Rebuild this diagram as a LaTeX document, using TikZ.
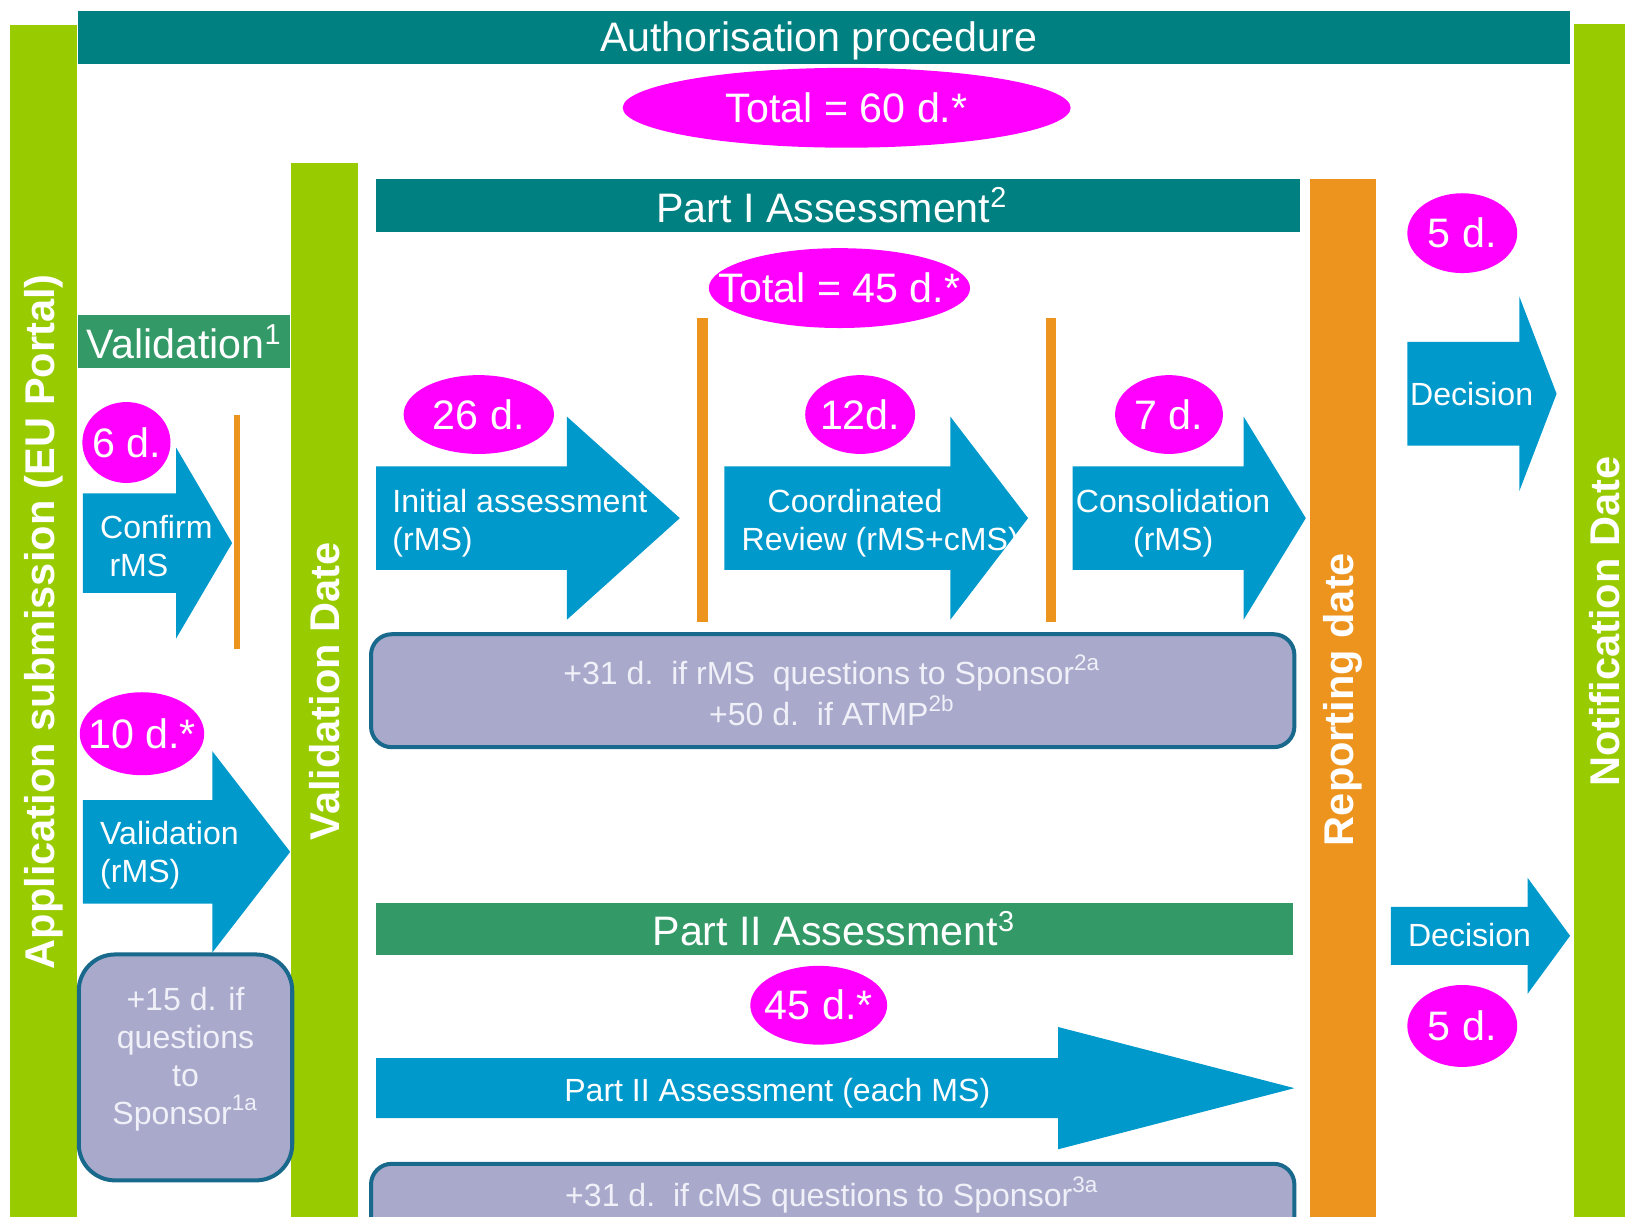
\documentclass[tikz,border=0pt]{standalone}
\usepackage{fontspec}
\setmainfont{Liberation Sans}
\usetikzlibrary{shapes.geometric}
\definecolor{ctTeal}{RGB}{0,128,128}
\definecolor{ctLime}{RGB}{153,204,0}
\definecolor{ctGreen}{RGB}{51,153,102}
\definecolor{ctOrange}{RGB}{237,148,30}
\definecolor{ctBlue}{RGB}{0,153,204}
\definecolor{ctMagenta}{RGB}{255,0,255}
\definecolor{ctLavender}{RGB}{169,169,204}
\definecolor{ctEdge}{RGB}{25,105,140}
\definecolor{ctPale}{RGB}{240,240,248}

% block arrow: left x, head x, tip x, centre y, half body, half head
\newcommand{\blockarrow}[6]{%
  \fill[ctBlue] (#1,#4-#5) -- (#2,#4-#5) -- (#2,#4-#6) -- (#3,#4)
    -- (#2,#4+#6) -- (#2,#4+#5) -- (#1,#4+#5) -- cycle;}
% duration text may run over its ellipse
\newcommand{\dlab}[1]{\makebox[0pt]{#1}}

\begin{document}
\begin{tikzpicture}[
    x=0.01cm,y=-0.01cm,
    big/.style={font=\fontsize{11.3}{13.5}\selectfont,text=white,inner sep=0pt},
    small/.style={font=\fontsize{8.8}{10.5}\selectfont,text=white,inner sep=0pt},
    vlabel/.style={font=\fontsize{11.4}{13.5}\selectfont\bfseries,text=white,rotate=90,inner sep=0pt},
    days/.style={ellipse,fill=ctMagenta,text=white,inner sep=0pt,
      font=\fontsize{11.3}{13.5}\selectfont},
    note/.style={fill=ctLavender,draw=ctEdge,line width=1.1pt},
    notetext/.style={font=\fontsize{8.8}{10.5}\selectfont,text=ctPale,inner sep=0pt,align=center}
  ]
  \useasboundingbox (0,0) rectangle (1568,1174);
  \clip (0,0) rectangle (1568,1174);

  % bars
  \fill[ctLime] (10,24) rectangle (74,1180);
  \fill[ctLime] (1519,23) rectangle (1600,1180);
  \fill[ctLime] (281,157) rectangle (345,1180);
  \fill[ctOrange] (1264,173) rectangle (1328,1180);
  \fill[ctTeal] (75,11) rectangle (1515,62);
  \fill[ctTeal] (363,173) rectangle (1254,224);
  \fill[ctGreen] (75,304) rectangle (280,355);
  \fill[ctGreen] (363,871) rectangle (1248,922);

  \node[vlabel] (submit) at (42,600) {Application submission (EU Portal)};
  \node[vlabel] (notify) at (1548,600) {Notification Date};
  \node[vlabel] (valdate) at (313,667) {Validation Date};
  \node[vlabel] (repdate) at (1296,675) {Reporting date};
  \node[big] (authTitle) at (790,39) {Authorisation procedure};
  \node[big] (partOneTitle) at (803,198) {Part I Assessment\textsuperscript{2}};
  \node[big,anchor=west] (valTitle) at (83,330) {Validation\textsuperscript{1}};
  \node[big] (partTwoTitle) at (805,896) {Part II Assessment\textsuperscript{3}};

  % separators
  \draw[ctOrange,line width=1.7pt] (229,400) -- (229,626);
  \draw[ctOrange,line width=2.9pt] (678,307) -- (678,600);
  \draw[ctOrange,line width=2.9pt] (1014,307) -- (1014,600);

  % arrows
  \blockarrow{80}{170}{224}{524}{48}{92}
  \blockarrow{80}{205}{280}{822}{50}{97}
  \blockarrow{363}{547}{656}{500}{50}{98}
  \blockarrow{699}{917}{992}{500}{50}{98}
  \blockarrow{1035}{1200}{1260}{500}{50}{98}
  \blockarrow{1358}{1466}{1502}{380}{50}{94}
  \blockarrow{363}{1021}{1249}{1050}{29}{59}
  \blockarrow{1342}{1474}{1515}{903}{28}{56}

  \node[small,align=left,anchor=west] (confirm) at (96,527) {Confirm\\\hspace*{0.09cm}rMS};
  \node[small,align=left,anchor=west] (validate) at (96,825) {Validation\\(rMS)};
  \node[small,align=left,anchor=west] (initial) at (378,505) {Initial assessment\\(rMS)};
  \node[small,align=left,anchor=west] (coord) at (715,505) {\hspace*{0.25cm}Coordinated\\Review\ (rMS+cMS)};
  \node[small,align=center] (consol) at (1132,505) {Consolidation\\(rMS)};
  \node[small] (decideOne) at (1420,380) {Decision};
  \node[small] (decideTwo) at (1418,902) {Decision};
  \node[small] (partTwoRun) at (750,1055) {Part II Assessment (each MS)};

  % extra time notes
  \draw[note,rounded corners=0.35cm] (76,921) rectangle (282,1139);
  \draw[note,rounded corners=0.2cm] (358,612) rectangle (1249,721);
  \draw[note,rounded corners=0.2cm] (358,1123) rectangle (1249,1220);
  \node[notetext] (askOne) at (179,1022) {+15 d. if\\questions\\to\\Sponsor\textsuperscript{1a}};
  \node[notetext,font=\fontsize{8.8}{10}\selectfont] (askTwo) at (803,666)
    {+31 d.\ \ if rMS\ \ questions to Sponsor\textsuperscript{2a}\\+50 d.\ \ if ATMP\textsuperscript{2b}};
  \node[notetext] (askThree) at (803,1153) {+31 d.\ \ if cMS questions to Sponsor\textsuperscript{3a}};

  % durations
  \node[days,minimum width=4.32cm,minimum height=0.77cm] (total60) at (817,104) {\dlab{Total = 60 d.*}};
  \node[days,minimum width=2.52cm,minimum height=0.77cm] (total45) at (810,278) {\dlab{Total = 45 d.*}};
  \node[days,minimum width=0.85cm,minimum height=0.78cm] (d6) at (122,427) {\dlab{6 d.}};
  \node[days,minimum width=1.2cm,minimum height=0.8cm] (d10) at (137,708) {\dlab{10 d.*}};
  \node[days,minimum width=1.45cm,minimum height=0.76cm] (d26) at (462,400) {\dlab{26 d.}};
  \node[days,minimum width=1.06cm,minimum height=0.76cm] (d12) at (830,400) {\dlab{12d.}};
  \node[days,minimum width=1.04cm,minimum height=0.76cm] (d7) at (1128,400) {\dlab{7 d.}};
  \node[days,minimum width=1.06cm,minimum height=0.77cm] (d5top) at (1411,225) {\dlab{5 d.}};
  \node[days,minimum width=1.32cm,minimum height=0.76cm] (d45) at (790,970) {\dlab{45 d.*}};
  \node[days,minimum width=1.06cm,minimum height=0.79cm] (d5low) at (1411,990) {\dlab{5 d.}};
\end{tikzpicture}
\end{document}
